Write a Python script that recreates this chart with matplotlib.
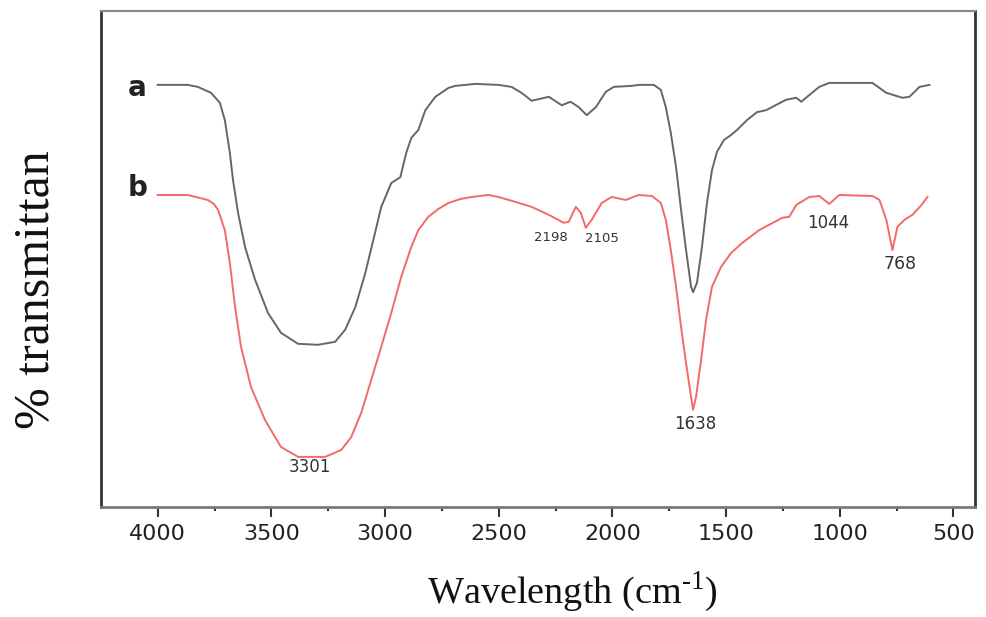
import matplotlib
matplotlib.use("Agg")
import matplotlib.pyplot as plt
import numpy as np

# spectrum a (grey) - wavenumber (cm-1) / transmittance (arb.)
wn_a = [4000, 3868, 3824, 3766, 3727, 3705, 3683, 3669, 3647, 3616, 3572, 3515, 3458,
        3383, 3295, 3220, 3176, 3131, 3087, 3052, 3017, 2973, 2933, 2907, 2885, 2854,
        2823, 2779, 2721, 2691, 2602, 2501, 2444, 2400, 2355, 2280, 2223, 2184, 2148,
        2113, 2073, 2029, 1994, 1915, 1884, 1818, 1787, 1765, 1743, 1720, 1698, 1676,
        1654, 1645, 1628, 1606, 1584, 1562, 1540, 1509, 1478, 1452, 1408, 1364, 1324,
        1236, 1191, 1169, 1143, 1090, 1046, 856, 795, 724, 693, 649, 605]
t_a = [85.1, 85.1, 84.7, 83.5, 81.5, 78.0, 71.4, 65.9, 59.3, 52.4, 45.8, 39.1, 35.1,
       32.9, 32.7, 33.3, 35.7, 40.3, 47.2, 53.8, 60.5, 65.3, 66.5, 71.4, 74.4, 76.0,
       80.0, 82.7, 84.5, 84.9, 85.3, 85.1, 84.7, 83.5, 81.9, 82.7, 81.0, 81.7, 80.6,
       79.0, 80.6, 83.7, 84.7, 84.9, 85.1, 85.1, 84.1, 80.6, 75.4, 68.5, 59.9, 51.8,
       44.4, 43.3, 45.2, 52.4, 61.3, 67.9, 71.6, 74.0, 75.0, 76.0, 78.0, 79.6, 80.0,
       82.1, 82.5, 81.7, 82.7, 84.7, 85.5, 85.5, 83.5, 82.5, 82.7, 84.7, 85.1]

# spectrum b (red)
wn_b = [4000, 3868, 3780, 3753, 3735, 3705, 3683, 3660, 3634, 3590, 3528, 3458, 3383,
        3264, 3193, 3149, 3105, 3061, 3017, 2973, 2929, 2885, 2854, 2810, 2765, 2721,
        2668, 2620, 2545, 2501, 2426, 2355, 2280, 2214, 2192, 2161, 2139, 2117, 2091,
        2047, 2003, 1941, 1897, 1884, 1826, 1787, 1765, 1743, 1720, 1698, 1676, 1654,
        1645, 1632, 1610, 1588, 1562, 1522, 1478, 1430, 1355, 1253, 1222, 1191, 1134,
        1090, 1046, 1002, 856, 825, 795, 768, 746, 715, 680, 640, 614]
t_b = [62.9, 62.9, 61.9, 61.1, 59.9, 55.8, 49.2, 40.3, 32.3, 24.2, 17.5, 12.1, 10.1,
       10.1, 11.5, 14.1, 19.0, 25.6, 32.3, 39.1, 46.4, 52.4, 55.8, 58.5, 60.1, 61.3,
       62.1, 62.5, 62.9, 62.5, 61.5, 60.5, 58.9, 57.3, 57.5, 60.5, 59.3, 56.3, 57.9,
       61.3, 62.5, 61.9, 62.7, 62.9, 62.7, 61.3, 57.9, 51.8, 44.4, 36.3, 29.0, 22.2,
       19.6, 22.2, 29.6, 37.7, 44.4, 48.4, 51.2, 53.2, 55.8, 58.3, 58.5, 60.9, 62.5,
       62.7, 61.1, 62.9, 62.7, 61.9, 57.9, 51.8, 56.5, 57.9, 58.9, 60.9, 62.5]

# peak labels
peak_text = ["3301", "2198", "2105", "1638", "1044", "768"]
peak_x = [3331, 2270, 2046, 1637, 1052, 735]
peak_y = [8.1, 54.4, 54.2, 16.7, 57.3, 49.0]
peak_size = [12, 9.5, 9.5, 12, 12, 12.5]

plt.rcParams['mathtext.fontset'] = 'custom'
plt.rcParams['mathtext.rm'] = 'Liberation Serif'

fig = plt.figure(figsize=(9.87, 6.17), dpi=100)
ax = fig.add_axes([0.1023, 0.1783, 0.8855, 0.8039])

ax.plot(wn_a, t_a, color='#666666', linewidth=1.4, solid_joinstyle='round')
ax.plot(wn_b, t_b, color='#f26a6a', linewidth=1.4, solid_joinstyle='round')

ax.text(4092, 84.5, 'a', fontsize=20, fontweight='bold', family='DejaVu Sans',
        ha='center', va='center', color='#222222')
ax.text(4087, 64.3, 'b', fontsize=20, fontweight='bold', family='DejaVu Sans',
        ha='center', va='center', color='#222222')
for s, x, y, fs in zip(peak_text, peak_x, peak_y, peak_size):
    ax.text(x, y, s, fontsize=fs, family='DejaVu Sans', ha='center', va='center',
            color='#333333')

ax.set_xlim(4250, 405)
ax.set_ylim(0, 100)
ax.set_yticks([])
ax.set_xticks(np.arange(4000, 499, -500))
ax.set_xticks(np.arange(3750, 499, -500), minor=True)
ax.tick_params(axis='x', which='major', direction='out', length=7, width=1.5,
               labelsize=16, colors='#333333', labelcolor='#222222', pad=5)
ax.tick_params(axis='x', which='minor', direction='out', length=3, width=1.5,
               colors='#333333')
for lab in ax.get_xticklabels():
    lab.set_family('DejaVu Sans')

for side in ['left', 'right']:
    ax.spines[side].set_color('#333333')
    ax.spines[side].set_linewidth(2)
ax.spines['top'].set_color('#8a8a8a')
ax.spines['top'].set_linewidth(1.6)
ax.spines['bottom'].set_color('#7a7a7a')
ax.spines['bottom'].set_linewidth(2)

fig.text(572 / 987, 1 - 592 / 617, r'Wavelength (cm$^{\text{-1}}$)', fontsize=27.5,
         family='Liberation Serif', ha='center', va='center', color='#111111')
fig.text(36 / 987, 1 - 290 / 617, '% transmittan', fontsize=36, rotation=90,
         family='Liberation Serif', ha='center', va='center', color='#111111')

fig.savefig('out.png', dpi=100)
